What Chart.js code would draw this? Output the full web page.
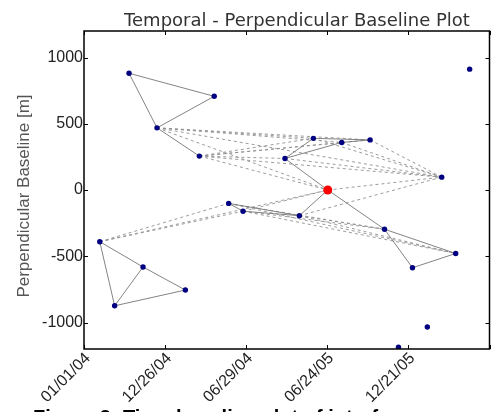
<!DOCTYPE html>
<html>
<head>
<meta charset="utf-8">
<script src="https://cdn.jsdelivr.net/npm/chart.js@4.4.1/dist/chart.umd.min.js"></script>
<style>
  html, body { margin: 0; padding: 0; background: #fff; }
  #wrap { width: 494px; height: 412px; }
</style>
</head>
<body>
<div id="wrap"><canvas id="myChart" width="494" height="412"></canvas></div>
<script>
// Acquisitions: days after the first tick, perpendicular baseline in metres
const acqDays = [100, 289, 162, 856, 509, 572, 635, 256, 446, 794, 541, 321, 353, 478, 667, 35, 825, 131, 729, 225, 68, 762, 698];
const baselines = [881, 707, 469, 912, 390, 359, 378, 256, 238, 97, 0, -101, -160, -194, -296, -390, -479, -581, -587, -755, -874, -1034, -1186];
const masterIndex = 10;

// Interferogram pairs (indices into the arrays above)
const solidPairs = [
    [0, 1], [0, 2], [2, 1], [2, 7],
    [8, 4], [8, 5], [4, 6], [5, 6],
    [8, 10], [10, 14], [10, 13],
    [11, 12], [11, 13], [12, 13],
    [14, 16], [14, 18], [16, 18],
    [15, 17], [15, 20], [17, 20], [17, 19], [20, 19]
];
const dashedPairs = [
    [2, 4], [2, 5], [2, 6], [2, 9], [2, 10],
    [7, 4], [7, 5], [7, 6], [7, 8], [7, 9], [7, 10],
    [8, 9], [4, 9], [5, 9], [6, 9],
    [10, 9], [13, 9],
    [15, 11], [15, 12], [15, 10], [12, 10],
    [11, 14], [12, 14], [13, 14], [11, 16], [12, 16], [13, 16]
];

const xTickValues = [0, 180, 360, 540, 720, 900];
const xTickLabels = ['01/01/04', '12/26/04', '06/29/04', '06/24/05', '12/21/05', ''];
const yTickValues = [-1000, -500, 0, 500, 1000];

function pt(i) {
    return { x: acqDays[i], y: baselines[i] };
}

// One small line dataset per pair
function pairDataset(pair, dashed) {
    return {
        data: [pt(pair[0]), pt(pair[1])],
        showLine: true,
        borderColor: dashed ? 'rgba(145,145,145,0.9)' : 'rgba(125,125,125,0.95)',
        borderWidth: 1,
        borderDash: dashed ? [3, 3] : [],
        pointRadius: 0,
        order: dashed ? 2 : 1
    };
}

const datasets = [];
dashedPairs.forEach(p => datasets.push(pairDataset(p, true)));
solidPairs.forEach(p => datasets.push(pairDataset(p, false)));

const slavePoints = [];
acqDays.forEach((d, i) => {
    if (i !== masterIndex) slavePoints.push(pt(i));
});
datasets.push({
    data: slavePoints,
    pointRadius: 2.7,
    pointBackgroundColor: '#000080',
    pointBorderWidth: 0,
    order: 0
});
datasets.push({
    data: [pt(masterIndex)],
    pointRadius: 4.5,
    pointBackgroundColor: '#ff0000',
    pointBorderWidth: 0,
    order: 0
});

// Frame, inward ticks, title, axis label and caption
const decorations = {
    id: 'decorations',
    afterDraw(chart) {
        const ctx = chart.ctx;
        const a = chart.chartArea;
        const xs = chart.scales.x;
        const ys = chart.scales.y;
        ctx.save();
        ctx.strokeStyle = '#000';
        ctx.lineWidth = 1.5;
        ctx.strokeRect(a.left, a.top, a.right - a.left, a.bottom - a.top);
        ctx.lineWidth = 1;
        ctx.beginPath();
        xTickValues.forEach(v => {
            const px = Math.round(xs.getPixelForValue(v)) + 0.5;
            ctx.moveTo(px, a.bottom); ctx.lineTo(px, a.bottom - 4);
            ctx.moveTo(px, a.top); ctx.lineTo(px, a.top + 4);
        });
        yTickValues.forEach(v => {
            const py = Math.round(ys.getPixelForValue(v)) + 0.5;
            ctx.moveTo(a.left, py); ctx.lineTo(a.left + 4, py);
            ctx.moveTo(a.right, py); ctx.lineTo(a.right - 4, py);
        });
        ctx.stroke();

        ctx.fillStyle = '#333';
        ctx.font = '18px "DejaVu Sans"';
        ctx.textAlign = 'center';
        ctx.textBaseline = 'alphabetic';
        ctx.fillText('Temporal - Perpendicular Baseline Plot', 297, 26);

        ctx.fillStyle = '#555';
        ctx.font = '17px "Liberation Sans"';
        ctx.translate(29, 196);
        ctx.rotate(-Math.PI / 2);
        ctx.fillText('Perpendicular Baseline [m]', 0, 0);
        ctx.setTransform(1, 0, 0, 1, 0, 0);

        ctx.fillStyle = '#000';
        ctx.font = 'bold 20px "Liberation Sans"';
        ctx.textAlign = 'left';
        ctx.fillText('Figure 3: Time-baseline plot of interferograms', 33, 424);
        ctx.restore();
    }
};

new Chart(document.getElementById('myChart'), {
    type: 'scatter',
    data: { datasets: datasets },
    options: {
        responsive: false,
        animation: false,
        layout: { padding: { top: 31, right: 3, left: 0, bottom: 0 } },
        plugins: {
            legend: { display: false },
            title: { display: false },
            tooltip: { enabled: false }
        },
        scales: {
            x: {
                type: 'linear',
                min: 0,
                max: 900,
                grid: { display: false, drawTicks: false },
                border: { display: false },
                afterBuildTicks: scale => {
                    scale.ticks = xTickValues.map(v => ({ value: v }));
                },
                afterFit: scale => {
                    scale.height = 63;
                    scale.paddingLeft = 0;
                    scale.paddingRight = 0;
                },
                ticks: {
                    autoSkip: false,
                    minRotation: 45,
                    maxRotation: 45,
                    padding: 0,
                    labelOffset: 4,
                    color: '#222',
                    font: { family: '"Liberation Sans"', size: 16 },
                    callback: (v) => xTickLabels[xTickValues.indexOf(v)]
                }
            },
            y: {
                type: 'linear',
                min: -1200,
                max: 1200,
                grid: { display: false, drawTicks: false },
                border: { display: false },
                afterBuildTicks: scale => {
                    scale.ticks = yTickValues.map(v => ({ value: v }));
                },
                afterFit: scale => {
                    scale.width = 84;
                    scale.paddingTop = 0;
                    scale.paddingBottom = 0;
                },
                ticks: {
                    padding: 1,
                    color: '#222',
                    font: { family: '"Liberation Sans"', size: 16 },
                    callback: (v) => String(v)
                }
            }
        }
    },
    plugins: [decorations]
});
</script>
</body>
</html>
